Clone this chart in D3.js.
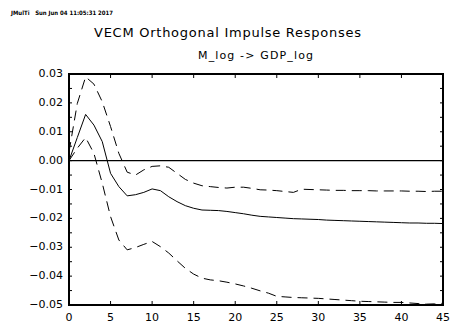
<!DOCTYPE html>
<html><head><meta charset="utf-8">
<script src="https://cdn.jsdelivr.net/npm/d3@7"></script>
<style>body{margin:0;background:#fff}svg{display:block}</style>
</head><body>
<script>
const steps = d3.range(0, 46);
const response = [0,0.008,0.016,0.0123,0.0066,-0.0044,-0.009,-0.0122,-0.0118,-0.011,-0.0098,-0.0104,-0.0125,-0.0142,-0.0156,-0.0165,-0.0171,-0.0172,-0.0173,-0.0176,-0.018,-0.0184,-0.0189,-0.0193,-0.0195,-0.0197,-0.0199,-0.0201,-0.0202,-0.0203,-0.0204,-0.0206,-0.0207,-0.0208,-0.0209,-0.0210,-0.0211,-0.0212,-0.0213,-0.0214,-0.0215,-0.0216,-0.0216,-0.0217,-0.0217,-0.0218];
const upper = [0.003,0.0198,0.029,0.0265,0.0204,0.0118,0.0025,-0.004,-0.005,-0.0032,-0.002,-0.0018,-0.0023,-0.0044,-0.0065,-0.0078,-0.0087,-0.009,-0.0093,-0.0095,-0.0092,-0.0092,-0.0096,-0.0101,-0.0102,-0.0104,-0.0107,-0.011,-0.0099,-0.01,-0.0101,-0.0102,-0.0103,-0.0103,-0.0104,-0.0104,-0.0104,-0.0105,-0.0105,-0.0105,-0.0105,-0.0106,-0.0106,-0.0107,-0.0106,-0.0106];
const lower = [0,0.0043,0.008,0.0025,-0.0078,-0.0194,-0.0275,-0.0309,-0.0301,-0.029,-0.028,-0.0298,-0.032,-0.0347,-0.0373,-0.0393,-0.0407,-0.0413,-0.0416,-0.0421,-0.0427,-0.0434,-0.0442,-0.0451,-0.0459,-0.047,-0.0472,-0.0474,-0.0475,-0.0476,-0.0477,-0.0479,-0.0481,-0.0483,-0.0485,-0.0487,-0.0488,-0.0489,-0.049,-0.0491,-0.0491,-0.0493,-0.0495,-0.0497,-0.0496,-0.0494];
const xTicks = [0,5,10,15,20,25,30,35,40,45];
const yTicks = [0.03,0.02,0.01,0.00,-0.01,-0.02,-0.03,-0.04,-0.05];
const yMinor = d3.range(-0.05, 0.0301, 0.005);
const headerText = "JMulTi   Sun Jun 04 11:05:31 2017";
const titleText = "VECM Orthogonal Impulse Responses";
const subtitleText = "M_log -> GDP_log";

const W = 453, H = 323;
const m = {l: 69, r: 443, t: 74, b: 305};
const svg = d3.select("body").append("svg").attr("width", W).attr("height", H);
const font = "'DejaVu Sans', 'Liberation Sans', sans-serif";

const x = d3.scaleLinear().domain([0, 45]).range([m.l, m.r]);
const y = d3.scaleLinear().domain([-0.05, 0.03]).range([m.b, m.t]);

svg.append("text").attr("x", 11).attr("y", 15).attr("font-family", font).attr("font-size", 6).attr("font-weight", "bold")
  .attr("textLength", 102).attr("lengthAdjust", "spacingAndGlyphs").style("white-space","pre").text(headerText);
svg.append("text").attr("x", 94).attr("y", 37).attr("font-family", font).attr("font-size", 13)
  .attr("textLength", 267).attr("lengthAdjust", "spacing").text(titleText);
svg.append("text").attr("x", 198).attr("y", 59).attr("font-family", font).attr("font-size", 11)
  .attr("textLength", 115).attr("lengthAdjust", "spacing").text(subtitleText);

// ticks
const gt = svg.append("g").attr("stroke", "#000").attr("stroke-width", 1);
xTicks.forEach(t => {
  gt.append("line").attr("x1", x(t)).attr("x2", x(t)).attr("y1", m.b).attr("y2", m.b - 4);
  gt.append("line").attr("x1", x(t)).attr("x2", x(t)).attr("y1", m.t).attr("y2", m.t + 4);
});
yMinor.forEach(v => {
  gt.append("line").attr("x1", m.l).attr("x2", m.l + 3).attr("y1", y(v)).attr("y2", y(v));
  gt.append("line").attr("x1", m.r).attr("x2", m.r - 3).attr("y1", y(v)).attr("y2", y(v));
});

// labels
const fmtY = d => (d < 0 ? "\u2212" : "") + Math.abs(d).toFixed(2);
svg.append("g").selectAll("text").data(yTicks).join("text")
  .attr("x", 63).attr("y", d => y(d) + 3).attr("text-anchor", "end")
  .attr("font-family", font).attr("font-size", 11).text(fmtY);
svg.append("g").selectAll("text").data(xTicks).join("text")
  .attr("x", d => x(d)).attr("y", 321).attr("text-anchor", "middle")
  .attr("font-family", font).attr("font-size", 11).text(d => d);

// zero line
svg.append("line").attr("x1", m.l).attr("x2", m.r).attr("y1", y(0)).attr("y2", y(0)).attr("stroke", "#000").attr("stroke-width", 1.3);

const line = d3.line().x((d, i) => x(steps[i])).y(d => y(d));
svg.append("path").attr("d", line(upper)).attr("fill", "none").attr("stroke", "#000").attr("stroke-width", 1).attr("stroke-dasharray", "10,6");
svg.append("path").attr("d", line(lower)).attr("fill", "none").attr("stroke", "#000").attr("stroke-width", 1).attr("stroke-dasharray", "10,6");
svg.append("path").attr("d", line(response)).attr("fill", "none").attr("stroke", "#000").attr("stroke-width", 1);

// frame
svg.append("rect").attr("x", m.l).attr("y", m.t).attr("width", m.r - m.l).attr("height", m.b - m.t).attr("fill", "none").attr("stroke", "#000").attr("stroke-width", 2);
</script>
</body></html>
